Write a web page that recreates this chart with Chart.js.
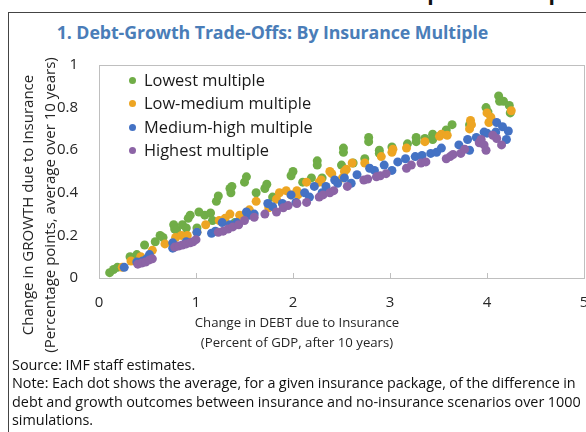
<!DOCTYPE html>
<html>
<head>
<meta charset="utf-8">
<script src="https://cdn.jsdelivr.net/npm/chart.js@4"></script>
<style>
  html, body { margin: 0; padding: 0; background: #fff; }
  body { width: 586px; height: 432px; overflow: hidden; position: relative; font-family: "Open Sans", "Noto Sans", sans-serif; color: #262626; }
  #chart { position: absolute; left: 0; top: 0; }
  .abs { position: absolute; white-space: nowrap; }
  #box { position: absolute; left: 8px; top: 12px; width: 700px; height: 500px; border-left: 1px solid #444; border-top: 1px solid #444; }
  #cut { left: 262px; top: -22px; font-size: 21px; font-weight: bold; color: #111; }
  #title { left: 0; width: 545px; top: 20px; text-align: center; font-size: 17.8px; font-weight: bold; color: #4a7db8; letter-spacing: -0.1px; }
  #legend { left: 126px; top: 68px; font-size: 16.4px; line-height: 23.3px; color: #1a1a1a; }
  #legend div { position: relative; padding-left: 18px; }
  #legend span { position: absolute; left: 3px; top: 9px; width: 7px; height: 7px; border-radius: 50%; }
  #xtitle { left: 147px; width: 300px; top: 312px; text-align: center; font-size: 13.2px; line-height: 20px; }
  #ytitle { left: 38px; top: 205px; width: 320px; text-align: center; font-size: 15px; line-height: 22px; transform: translate(-50%, -50%) rotate(-90deg); }
  #notes { left: 12px; top: 356px; font-size: 14.4px; line-height: 18.3px; letter-spacing: 0; word-spacing: -0.3px; color: #111; }
</style>
</head>
<body>
<div id="box"></div>
<div id="cut" class="abs">Insurance Multiple and Simple Policy Design</div>
<div id="title" class="abs">1. Debt-Growth Trade-Offs: By Insurance Multiple</div>
<canvas id="chart" width="620" height="432"></canvas>
<div id="legend" class="abs"></div>
<div id="xtitle" class="abs">Change in DEBT due to Insurance<br>(Percent of GDP, after 10 years)</div>
<div id="ytitle" class="abs">Change in GROWTH due to Insurance<br>(Percentage points, average over 10 years)</div>
<div id="notes" class="abs">Source: IMF staff estimates.<br>Note: Each dot shows the average, for a given insurance package, of the difference in<br>debt and growth outcomes between insurance and no-insurance scenarios over 1000<br>simulations.</div>
<script>
const seriesNames = ['Lowest multiple', 'Low-medium multiple', 'Medium-high multiple', 'Highest multiple'];
const seriesColors = ['#70ad47', '#eda523', '#4472c4', '#8c64a6'];

// debt change (x) and growth change (y) per series
const lowestDebt = [0.11,0.15,0.19,0.32,0.39,0.47,0.58,0.63,0.66,0.77,0.78,0.80,0.86,0.90,0.92,0.94,1.01,1.03,1.09,1.15,1.17,1.21,1.23,1.35,1.36,1.37,1.40,1.50,1.52,1.62,1.71,1.73,1.79,1.98,2.0,2.1,2.19,2.25,2.25,2.3,2.5,2.52,2.52,2.62,2.74,2.78,2.78,2.89,2.89,3.02,3.18,3.27,3.27,3.36,3.44,3.44,3.58,3.64,3.82,3.99,4.01,4.12,4.13,4.17,4.23,4.24];
const lowestGrowth = [0.025,0.04,0.05,0.10,0.11,0.155,0.17,0.2,0.19,0.25,0.23,0.225,0.25,0.235,0.28,0.295,0.235,0.31,0.295,0.305,0.27,0.36,0.385,0.42,0.40,0.43,0.26,0.45,0.475,0.40,0.42,0.44,0.38,0.48,0.50,0.45,0.47,0.55,0.53,0.47,0.53,0.61,0.59,0.54,0.56,0.66,0.64,0.60,0.585,0.615,0.63,0.66,0.64,0.655,0.675,0.65,0.695,0.72,0.72,0.80,0.78,0.855,0.83,0.83,0.81,0.775];

const lowMedDebt = [0.24,0.33,0.43,0.55,0.68,0.79,0.85,0.91,1.01,1.10,1.24,1.30,1.35,1.45,1.55,1.62,1.75,1.83,1.86,1.93,1.98,2.04,2.05,2.14,2.27,2.29,2.38,2.40,2.51,2.53,2.55,2.61,2.74,2.91,3.02,3.03,3.17,3.36,3.51,3.53,3.59,3.82,3.83,3.84,4.0,4.02,4.04,4.25];
const lowMedGrowth = [0.05,0.08,0.10,0.13,0.16,0.19,0.2,0.20,0.215,0.25,0.27,0.28,0.30,0.295,0.32,0.36,0.33,0.37,0.40,0.41,0.39,0.41,0.39,0.45,0.45,0.46,0.50,0.49,0.47,0.50,0.51,0.54,0.54,0.57,0.59,0.605,0.61,0.64,0.665,0.675,0.67,0.70,0.74,0.72,0.775,0.73,0.755,0.785];

const medHighDebt = [0.26,0.39,0.45,0.49,0.52,0.76,0.76,0.9,1.01,1.16,1.2,1.27,1.35,1.42,1.52,1.55,1.6,1.74,1.79,1.89,1.98,2.03,2.12,2.17,2.22,2.3,2.34,2.43,2.46,2.53,2.6,2.66,2.79,2.84,2.94,3.02,3.08,3.16,3.26,3.33,3.42,3.48,3.53,3.71,3.8,3.82,3.89,3.97,4.0,4.09,4.1,4.16,4.2,4.22];
const medHighGrowth = [0.05,0.075,0.08,0.09,0.11,0.14,0.165,0.17,0.215,0.21,0.22,0.26,0.25,0.26,0.31,0.295,0.30,0.35,0.335,0.35,0.39,0.355,0.40,0.38,0.43,0.40,0.43,0.46,0.445,0.47,0.445,0.485,0.515,0.505,0.53,0.505,0.545,0.56,0.57,0.575,0.585,0.59,0.61,0.625,0.65,0.60,0.66,0.685,0.68,0.685,0.73,0.71,0.65,0.69];

const highestDebt = [0.40,0.44,0.48,0.52,0.55,0.78,0.82,0.86,0.90,0.94,0.97,1.0,1.23,1.28,1.33,1.38,1.44,1.5,1.6,1.71,1.83,1.9,1.95,2.04,2.14,2.27,2.31,2.38,2.42,2.56,2.73,2.77,2.86,2.9,2.96,3.17,3.22,3.32,3.37,3.58,3.62,3.65,3.73,3.77,3.92,3.94,3.97,3.99,4.06,4.1,4.15];
const highestGrowth = [0.065,0.07,0.075,0.085,0.09,0.145,0.15,0.155,0.16,0.165,0.17,0.18,0.215,0.22,0.23,0.24,0.25,0.27,0.285,0.30,0.31,0.33,0.34,0.35,0.355,0.38,0.39,0.40,0.41,0.43,0.46,0.465,0.475,0.48,0.49,0.515,0.53,0.54,0.545,0.56,0.57,0.58,0.585,0.605,0.635,0.65,0.625,0.60,0.67,0.655,0.625];

const xTicks = [0, 1, 2, 3, 4, 5];
const yTicks = [0, 0.2, 0.4, 0.6, 0.8, 1];

function toPoints(xs, ys) {
    return xs.map((x, i) => ({ x: x, y: ys[i] }));
}

const allSeries = [
    toPoints(lowestDebt, lowestGrowth),
    toPoints(lowMedDebt, lowMedGrowth),
    toPoints(medHighDebt, medHighGrowth),
    toPoints(highestDebt, highestGrowth)
];

// legend drawn as html, inside plot area
const legendEl = document.getElementById('legend');
seriesNames.forEach((name, i) => {
    const row = document.createElement('div');
    row.innerHTML = '<span style="background:' + seriesColors[i] + '"></span>' + name;
    legendEl.appendChild(row);
});

// plot frame + small inward ticks on the x axis
const framePlugin = {
    id: 'frame',
    beforeDatasetsDraw(chart) {
        const { ctx, chartArea: a, scales } = chart;
        ctx.save();
        ctx.strokeStyle = '#bfbfbf';
        ctx.lineWidth = 1;
        ctx.strokeRect(a.left + 0.5, a.top + 0.5, a.right - a.left, a.bottom - a.top);
        ctx.beginPath();
        xTicks.forEach(v => {
            const px = Math.round(scales.x.getPixelForValue(v)) + 0.5;
            ctx.moveTo(px, a.bottom);
            ctx.lineTo(px, a.bottom - 5);
        });
        ctx.stroke();
        ctx.restore();
    }
};

const tickFont = { family: '"Open Sans", "Noto Sans", sans-serif', size: 15 };

new Chart(document.getElementById('chart'), {
    type: 'scatter',
    data: {
        datasets: allSeries.map((pts, i) => ({
            label: seriesNames[i],
            data: pts,
            backgroundColor: seriesColors[i],
            borderWidth: 0,
            pointRadius: 4.5,
            order: 4 - i
        }))
    },
    options: {
        responsive: false,
        devicePixelRatio: 1,
        animation: false,
        layout: { padding: { left: 8, right: 36, top: 65, bottom: 114 } },
        plugins: {
            legend: { display: false },
            tooltip: { enabled: false }
        },
        scales: {
            x: {
                min: 0, max: 5,
                afterFit: s => { s.height = 40; },
                afterBuildTicks: s => { s.ticks = xTicks.map(v => ({ value: v })); },
                grid: { display: false },
                border: { display: false },
                ticks: { font: tickFont, color: '#262626', padding: 8, callback: v => String(v) }
            },
            y: {
                min: 0, max: 1,
                afterFit: s => { s.width = 91; },
                afterBuildTicks: s => { s.ticks = yTicks.map(v => ({ value: v })); },
                grid: { display: false },
                border: { display: false },
                ticks: { font: tickFont, color: '#262626', padding: 13, callback: v => String(v) }
            }
        }
    },
    plugins: [framePlugin]
});
</script>
</body>
</html>
